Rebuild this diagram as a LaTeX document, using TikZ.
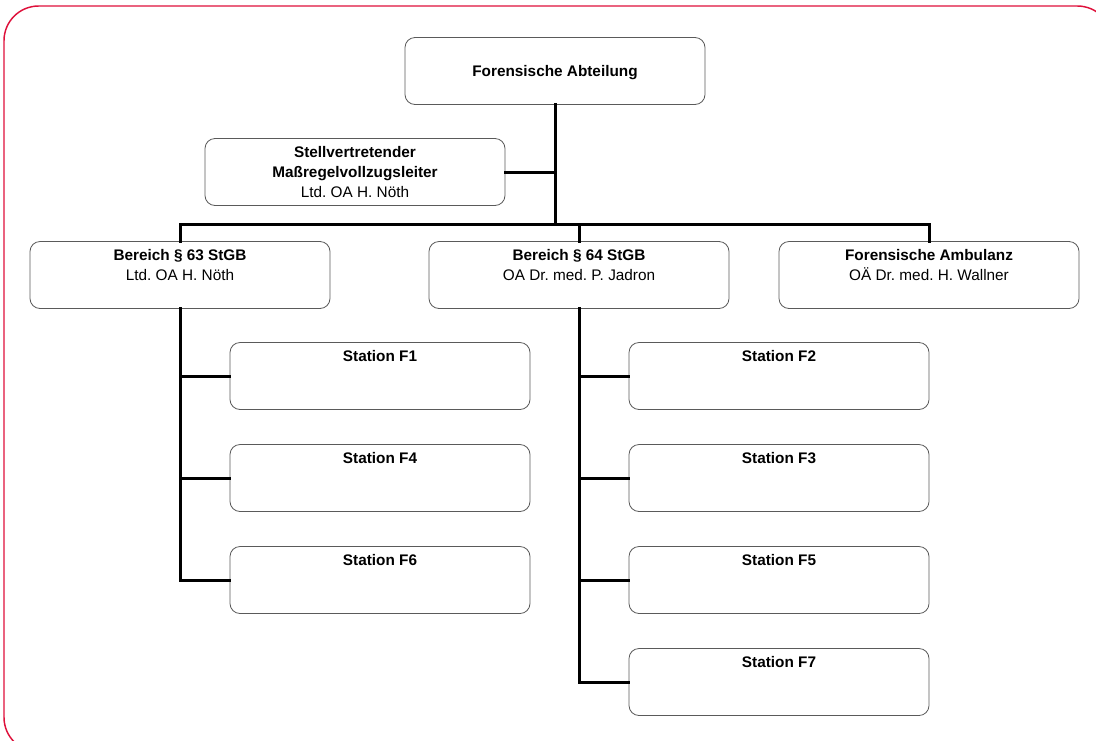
\documentclass[tikz,border=0pt]{standalone}
\usepackage{fontspec}
\setmainfont{Liberation Sans}
\frenchspacing
\definecolor{rahmen}{RGB}{222,16,58}
\definecolor{kante}{RGB}{90,90,90}
\newcommand{\zeilen}[1]{\begin{tabular}[t]{@{}c@{}}#1\end{tabular}}
\tikzset{
	kasten/.style={draw=kante, line width=0.6pt, rounded corners=7.5pt, fill=white,
		minimum width=225pt, inner xsep=0pt, inner ysep=0pt,
		text height=14pt, text depth=36.25pt, font=\fontsize{11.5}{15}\selectfont},
	linie/.style={line width=2.25pt, line cap=rect}
}
\begin{document}
\begin{tikzpicture}[x=0.75pt, y=-0.75pt]
	\clip (0,0) rectangle (1096,740);
	% Rahmen
	\draw[rahmen, line width=1.1pt, rounded corners=26pt] (4,6) rectangle (1112,752);
	
	% Leitung
	\node[kasten, text height=29.25pt, text depth=21pt] (abt) at (555,71) {\textbf{Forensische Abteilung}};
	\node[kasten] (stv) at (355,172) {\zeilen{\textbf{Stellvertretender}\\\textbf{Maßregelvollzugsleiter}\\Ltd. OA H. Nöth}};
	
	% Bereiche
	\node[kasten] (b63) at (180,275) {\zeilen{\textbf{Bereich § 63 StGB}\\Ltd. OA H. Nöth}};
	\node[kasten] (b64) at (579,275) {\zeilen{\textbf{Bereich § 64 StGB}\\OA Dr. med. P. Jadron}};
	\node[kasten] (amb) at (929,275) {\zeilen{\textbf{Forensische Ambulanz}\\OÄ Dr. med. H. Wallner}};
	
	% Stationen
	\node[kasten] (f1) at (380,376) {\textbf{Station F1}};
	\node[kasten] (f4) at (380,478) {\textbf{Station F4}};
	\node[kasten] (f6) at (380,580) {\textbf{Station F6}};
	\node[kasten] (f2) at (779,376) {\textbf{Station F2}};
	\node[kasten] (f3) at (779,478) {\textbf{Station F3}};
	\node[kasten] (f5) at (779,580) {\textbf{Station F5}};
	\node[kasten] (f7) at (779,682) {\textbf{Station F7}};
	
	% Verbindungen
	\coordinate (bar) at (555,224);
	\draw[linie] (abt.south) -- (bar);
	\draw[linie] (stv.east) -- (stv.east -| bar);
	\draw[linie] (b63.north) |- (bar);
	\draw[linie] (amb.north) |- (bar);
	\draw[linie] (b64.north) -- (b64.north |- bar);
	
	\draw[linie] (b63.south) |- (f6.west);
	\draw[linie] (f1.west) -- (f1.west -| b63.south);
	\draw[linie] (f4.west) -- (f4.west -| b63.south);
	
	\draw[linie] (b64.south) |- (f7.west);
	\draw[linie] (f2.west) -- (f2.west -| b64.south);
	\draw[linie] (f3.west) -- (f3.west -| b64.south);
	\draw[linie] (f5.west) -- (f5.west -| b64.south);
\end{tikzpicture}
\end{document}
